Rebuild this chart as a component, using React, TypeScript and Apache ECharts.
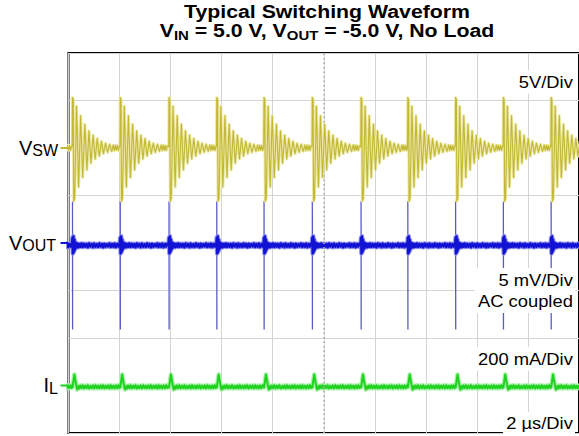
import React, { useEffect, useRef } from "react";
import * as echarts from "echarts";

// ---- Scope settings ----
const X_MIN_US = 0;
const X_MAX_US = 20;
const X_DIV_US = 2;
const Y_MIN_DIV = -4;
const Y_MAX_DIV = 4;

const VSW_V_PER_DIV = 5;
const VOUT_MV_PER_DIV = 5;
const IL_MA_PER_DIV = 200;

const VSW_GROUND_DIV = 2;
const VOUT_GROUND_DIV = 0;
const IL_GROUND_DIV = -3;

// switching edges (µs)
const EDGE_TIMES_US = [-1.719, 0.156, 2.027, 3.938, 5.809, 7.661, 9.552, 11.462, 13.294, 15.166, 17.037, 18.908];

// one switching cycle of VSW: [µs after edge, volts]
const VSW_CYCLE: [number, number][] = [
  [-0.01, 0.15], [0.0, 5.3], [0.03, 5.1], [0.05, -5.6], [0.085, -5.3],
  [0.16, 4.4], [0.24, -4.1], [0.32, 3.4], [0.4, -3.1], [0.485, 2.5],
  [0.565, -2.3], [0.645, 1.8], [0.725, -1.6], [0.81, 1.35], [0.89, -1.15],
  [0.97, 1.0], [1.05, -0.85], [1.135, 0.7], [1.215, -0.6], [1.295, 0.5],
  [1.375, -0.45], [1.455, 0.38], [1.535, -0.35], [1.6, 0.3], [1.64, -0.25],
  [1.68, 0.28], [1.72, -0.22], [1.76, 0.26], [1.8, -0.24], [1.84, 0.2],
];

// one cycle of VOUT ripple: [µs after edge, mV]
const VOUT_CYCLE: [number, number][] = [
  [-0.02, -0.15], [0.0, 0.55], [0.015, -1.1], [0.035, 0.7], [0.055, -0.95],
  [0.075, 0.35], [0.095, -0.7], [0.12, 0.05], [0.15, -0.5], [0.19, -0.05],
  [0.23, -0.45], [0.27, -0.1], [0.31, -0.4], [0.35, -0.05], [0.4, -0.42],
  [0.45, -0.08], [0.5, -0.4], [0.55, -0.1], [0.6, -0.45], [0.65, -0.05],
  [0.7, -0.38], [0.75, -0.1], [0.8, -0.44], [0.85, -0.06], [0.9, -0.4],
  [0.95, -0.12], [1.0, -0.42], [1.05, -0.05], [1.1, -0.38], [1.15, -0.1],
  [1.2, -0.45], [1.25, -0.08], [1.3, -0.4], [1.35, -0.12], [1.4, -0.36],
  [1.45, -0.05], [1.5, -0.42], [1.55, -0.1], [1.6, -0.4], [1.65, -0.06],
  [1.7, -0.44], [1.75, -0.1], [1.8, -0.38], [1.84, -0.08],
];
// VOUT spike at each edge: top, bottom (mV)
const VOUT_SPIKE_MV = [4.4, -9.1];

// one cycle of inductor current: [µs after edge, mA]
const IL_CYCLE: [number, number][] = [
  [-0.02, -2], [0.0, -8], [0.04, 20], [0.075, 46], [0.11, 24],
  [0.15, 0], [0.185, -17], [0.22, -3], [0.26, -13], [0.3, 0],
  [0.35, -11], [0.4, 1], [0.45, -12], [0.5, -1], [0.55, -11],
  [0.6, 1], [0.65, -12], [0.7, -2], [0.75, -11], [0.8, 0],
  [0.85, -12], [0.9, 1], [0.95, -11], [1.0, -1], [1.05, -12],
  [1.1, 0], [1.15, -11], [1.2, 1], [1.25, -12], [1.3, -1],
  [1.35, -11], [1.4, 0], [1.45, -12], [1.5, 1], [1.55, -11],
  [1.6, -1], [1.65, -12], [1.7, 0], [1.75, -11], [1.8, 1], [1.84, -10],
];

const TITLE_LINE1 = "Typical Switching Waveform";
const TITLE_LINE2 = "{m|V}{s|IN}{m| = 5.0 V, V}{s|OUT}{m| = -5.0 V, No Load}";
const LABEL_VSW = "5V/Div";
const LABEL_VOUT = "5 mV/Div\nAC coupled";
const LABEL_IL = "200 mA/Div";
const LABEL_TIME = "2 µs/Div";

const FONT = "'Liberation Sans', Arial, Helvetica, sans-serif";

const C_YEL = "#c2b836";
const C_YEL_HALO = "#ece8a4";
const C_BLUE = "#1212d4";
const C_BLUE_HALO = "#8f8fe8";
const C_SPIKE = "#5a5ac4";
const C_GREEN = "#1fd21f";
const C_GREEN_HALO = "#a8efa8";

function buildTrace(cycle: [number, number][], perDiv: number, ground: number) {
  const out: [number, number][] = [];
  const lead = cycle[0][0];
  EDGE_TIMES_US.forEach((e, k) => {
    const next = k + 1 < EDGE_TIMES_US.length ? EDGE_TIMES_US[k + 1] : Infinity;
    for (const [dt, v] of cycle) {
      const t = e + dt;
      if (t < next + lead - 0.001) out.push([t, v / perDiv + ground]);
    }
  });
  return out;
}

function buildSpikes() {
  const out: any[] = [];
  EDGE_TIMES_US.forEach((e) => {
    out.push([e, VOUT_SPIKE_MV[0] / VOUT_MV_PER_DIV + VOUT_GROUND_DIV]);
    out.push([e + 0.004, VOUT_SPIKE_MV[1] / VOUT_MV_PER_DIV + VOUT_GROUND_DIV]);
    out.push([e + 0.006, "-"]);
  });
  return out;
}

function marker(color: string, ground: number) {
  return {
    symbol: "rect",
    symbolSize: [8, 2],
    symbolOffset: [-4, 0],
    silent: true,
    label: { show: false },
    itemStyle: { color },
    data: [{ coord: [X_MIN_US, ground] }],
  };
}

export default function App() {
  const ref = useRef<HTMLDivElement>(null);
  useEffect(() => {
    const chart = echarts.init(ref.current!, undefined, { renderer: "svg" });
    const vsw = buildTrace(VSW_CYCLE, VSW_V_PER_DIV, VSW_GROUND_DIV);
    const vout = buildTrace(VOUT_CYCLE, VOUT_MV_PER_DIV, VOUT_GROUND_DIV);
    const il = buildTrace(IL_CYCLE, IL_MA_PER_DIV, IL_GROUND_DIV);
    const line = (data: any, color: string, width: number, z: number, extra: any = {}) => ({
      type: "line",
      data,
      showSymbol: false,
      symbol: "none",
      silent: true,
      z,
      lineStyle: { color, width, join: "round" },
      ...extra,
    });
    const labelStyle = (text: string, y: number) => ({
      type: "text",
      x: 575,
      y,
      scaleX: 1.08,
      z: 100,
      style: {
        text,
        font: `17px ${FONT}`,
        fill: "#000",
        textAlign: "right",
        align: "right",
        textVerticalAlign: "middle",
        verticalAlign: "middle",
        lineHeight: 21.5,
        backgroundColor: "#fff",
        padding: [1, 2, 1, 3],
      },
    });
    const chanLabel = (text: string, x: number, y: number) => ({
      type: "text",
      x,
      y,
      z: 100,
      style: {
        text,
        textAlign: "right",
        align: "right",
        textVerticalAlign: "middle",
        verticalAlign: "middle",
        rich: {
          v: { font: `20px ${FONT}`, fill: "#000", lineHeight: 22 },
          s: { font: `16px ${FONT}`, fill: "#000", lineHeight: 14, verticalAlign: "bottom" },
        },
      },
    });
    chart.setOption({
      animation: false,
      backgroundColor: "#fff",
      grid: {
        left: 68.5,
        top: 53,
        width: 513,
        height: 380,
        show: true,
        borderColor: "#000",
        borderWidth: 2,
        backgroundColor: "#fff",
      },
      xAxis: {
        type: "value",
        min: X_MIN_US,
        max: X_MAX_US,
        interval: X_DIV_US,
        axisLine: { show: false },
        axisTick: { show: false },
        axisLabel: { show: false },
        splitLine: { show: true, lineStyle: { color: "#d4d4d4", width: 1 } },
      },
      yAxis: {
        type: "value",
        min: Y_MIN_DIV,
        max: Y_MAX_DIV,
        interval: 1,
        axisLine: { show: false },
        axisTick: { show: false },
        axisLabel: { show: false },
        splitLine: { show: true, lineStyle: { color: "#d4d4d4", width: 1 } },
      },
      series: [
        line(il, C_GREEN_HALO, 4.5, 1, {
          markLine: {
            silent: true,
            symbol: "none",
            label: { show: false },
            lineStyle: { color: "#a8a8a8", type: [1.5, 3], width: 1.5 },
            data: [{ xAxis: (X_MIN_US + X_MAX_US) / 2 }],
          },
        }),
        line(il, C_GREEN, 2, 2, { markPoint: marker(C_GREEN, IL_GROUND_DIV) }),
        line(buildSpikes(), C_SPIKE, 1.3, 3, { connectNulls: false }),
        line(vout, C_BLUE_HALO, 4.5, 3),
        line(vout, C_BLUE, 2.4, 4, { markPoint: marker(C_BLUE, VOUT_GROUND_DIV) }),
        line(vsw, C_YEL_HALO, 3, 5),
        line(vsw, C_YEL, 1.1, 6, { markPoint: marker(C_YEL, VSW_GROUND_DIV) }),
      ],
      graphic: [
        {
          type: "text",
          x: 327,
          y: 11.5,
          scaleX: 1.15,
          z: 100,
          style: {
            text: TITLE_LINE1,
            font: `bold 18.5px ${FONT}`,
            fill: "#000",
            textAlign: "center",
            align: "center",
            textVerticalAlign: "middle",
            verticalAlign: "middle",
          },
        },
        {
          type: "text",
          x: 327,
          y: 31,
          scaleX: 1.15,
          z: 100,
          style: {
            text: TITLE_LINE2,
            textAlign: "center",
            align: "center",
            textVerticalAlign: "middle",
            verticalAlign: "middle",
            rich: {
              m: { font: `bold 18.5px ${FONT}`, fill: "#000", lineHeight: 22 },
              s: { font: `bold 13px ${FONT}`, fill: "#000", lineHeight: 12, verticalAlign: "bottom" },
            },
          },
        },
        labelStyle(LABEL_VSW, 82),
        labelStyle(LABEL_VOUT, 290.5),
        labelStyle(LABEL_IL, 359),
        labelStyle(LABEL_TIME, 423.5),
        chanLabel("{v|V}{s|SW}", 58, 147.5),
        chanLabel("{v|V}{s|OUT}", 56, 242.5),
        chanLabel("{v|I}{s|L}", 58, 385),
      ],
    });
    return () => chart.dispose();
  }, []);
  return (
    <div
      ref={ref}
      style={{ position: "fixed", left: 0, top: 0, width: 579, height: 436 }}
    />
  );
}
